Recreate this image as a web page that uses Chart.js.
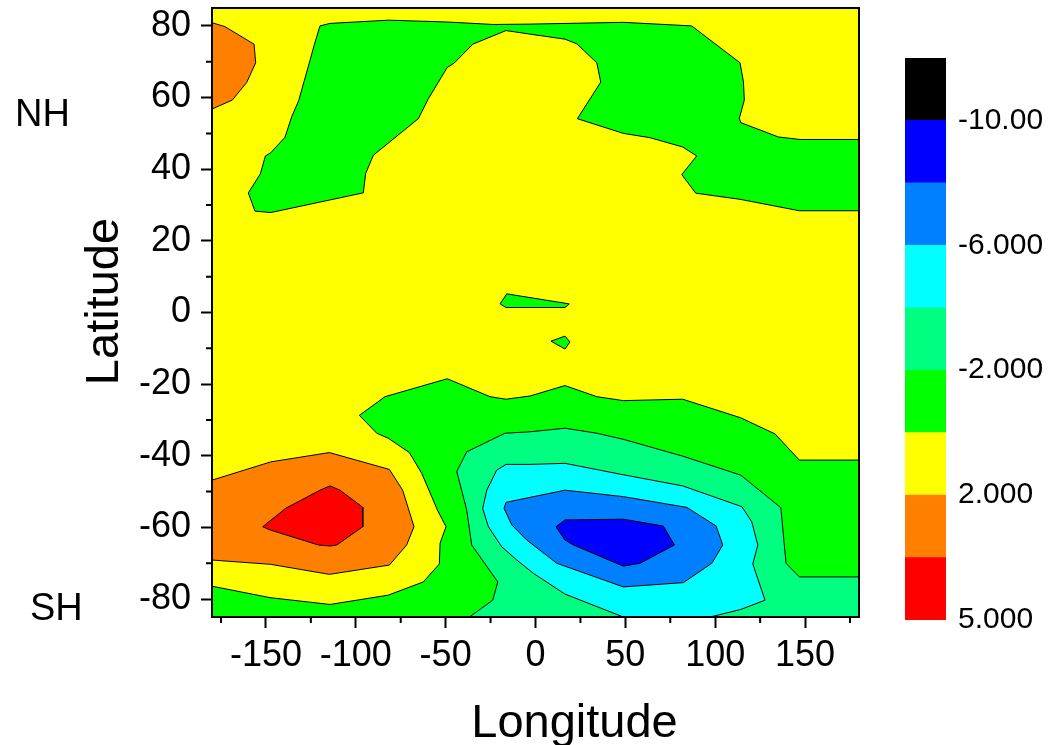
<!DOCTYPE html>
<html>
<head>
<meta charset="utf-8">
<script src="https://cdn.jsdelivr.net/npm/chart.js@4/dist/chart.umd.min.js"></script>
<style>
  body { margin: 0; background: #fff; }
  #wrap { position: relative; width: 1051px; height: 745px; }
  #contour { position: absolute; left: 0; top: 0; }
  #scale { position: absolute; left: 860px; top: 0; }
</style>
</head>
<body>
<div id="wrap">
  <canvas id="contour" width="1051" height="745"></canvas>
  <canvas id="scale" width="191" height="745"></canvas>
</div>
<script>
// axis ticks
const lonLabels = [-150, -100, -50, 0, 50, 100, 150];
const lonMinor = [-175, -125, -75, -25, 25, 75, 125, 175];
const latLabels = [-80, -60, -40, -20, 0, 20, 40, 60, 80];
const latMinor = [-70, -50, -30, -10, 10, 30, 50, 70];

// contour outlines, [longitude, latitude]
const baseYellow = [[-180, -85], [180, -85], [180, 85], [-180, 85]];
const nwOrange = [[-180, 80.9], [-172.8, 79.8], [-156.6, 74.9], [-155.7, 69.7], [-160.7, 64.2], [-168.7, 59.3], [-180, 56.8]];
const northGreen = [
    [-119.9, 80.0], [-114.3, 80.7], [-81.9, 81.6], [-49.4, 81.1], [-23.5, 80.4], [-3, 80.5], [48.9, 81.0],
    [86.9, 80.0], [113.8, 69.7], [115.7, 64.4], [116.2, 59.3], [113.4, 54.2], [114.2, 53.0], [135.1, 49.0],
    [147.2, 48.3], [180, 48.3], [180, 28.4], [146.8, 28.4], [113.8, 31.6], [89.2, 33.3], [81.4, 38.5],
    [89.7, 43.7], [81.9, 46.2], [63.7, 48.8], [48.9, 50.0], [23.3, 54.1], [36.3, 64.3], [34.1, 69.7],
    [23, 75.0], [16.4, 76.3], [-3, 77.7], [-16.4, 78.7], [-34.9, 74.9], [-45.3, 69.6], [-49.1, 68.4],
    [-59.6, 59.7], [-65.2, 54.1], [-80.9, 47.7], [-90.2, 43.9], [-94.5, 38.8], [-95.8, 33.4], [-147.3, 27.9],
    [-156.1, 28.3], [-159.8, 33.4], [-153.1, 38.7], [-150.3, 43.7], [-147.3, 44.6], [-139.4, 48.9],
    [-135.6, 54.7], [-131.8, 59.1], [-125.9, 69.6], [-123.1, 74.7],
];
const eqGreenA = [[-16, 5.2], [18.8, 2.4], [16.4, 1.4], [-16.4, 1.4], [-19.7, 2.4]];
const eqGreenB = [[8.6, -8.0], [16.4, -6.6], [19.2, -8.2], [16.4, -10.2]];
const southGreen = [
    [-180, -76.4], [-147.7, -79.6], [-114.3, -81.5], [-81.9, -78.9], [-62.4, -75.2], [-53.5, -70.2],
    [-53.1, -64.4], [-49.8, -59.8], [-54.6, -55.1], [-63.3, -44.9], [-70.2, -39.1], [-81.9, -35.1],
    [-88.3, -33.7], [-98, -28.7], [-83.7, -23.5], [-49.1, -18.5], [-25.3, -23.5], [-16.4, -24.2],
    [-3, -23.3], [16.4, -20.4], [34.1, -23.5], [48.9, -24.6], [81.9, -24.2], [114.2, -29.4],
    [133.3, -33.9], [146.8, -41.2], [180, -41.2], [180, -85], [-180, -85],
];
const swOrange = [
    [-180, -46.8], [-147.3, -41.7], [-114.7, -39.1], [-81.3, -43.8], [-73.9, -49.6], [-67.6, -59.8],
    [-71.7, -64.9], [-81.3, -70.5], [-114.7, -73.1], [-147.3, -70.3], [-180, -69.1],
];
const swRed = [
    [-151.8, -59.8], [-138.8, -54.6], [-119.9, -49.6], [-114.3, -48.4], [-108.8, -49.6], [-96.1, -54.4],
    [-96.1, -59.8], [-110.6, -64.9], [-114.3, -65.2], [-120.8, -64.9], [-147.7, -60.7],
];
const springGreen = [
    [-36.8, -85], [-23.8, -80.3], [-21, -75.2], [-35.5, -64.9], [-38.3, -55.1], [-43.8, -44.4],
    [-38.3, -38.9], [-17, -33.7], [-3, -33.3], [16.4, -32.3], [34.1, -33.7], [48.9, -35.4],
    [81.9, -40.1], [114.2, -45.4], [136.5, -54.5], [139.4, -70], [146.8, -73.8], [180, -73.8], [180, -85],
];
const cyanCore = [
    [-16.4, -42.4], [-21.6, -44], [-27.1, -49.6], [-29.4, -54.7], [-26.2, -59.8], [-18.8, -65.4],
    [-10.4, -69.1], [-1.2, -72.8], [16.4, -78.6], [48.9, -85], [97.1, -85], [114.2, -82.9],
    [127.7, -80.3], [120.9, -70.2], [123.7, -64.9], [120.3, -58.4], [114.8, -54.2], [81.9, -48.4],
    [48.9, -45.3], [16.4, -42.1], [-3, -42.4],
];
const midBlue = [
    [-16.4, -53], [-17.5, -54.7], [-13.2, -59.3], [-4.9, -63.5], [11.8, -70], [48.9, -76.6],
    [82.3, -75.4], [98.1, -70], [104.2, -64.9], [100.5, -59.6], [84.2, -54.4], [48.9, -51.4],
    [16.4, -49.6], [-3, -51.6],
];
const deepBlue = [
    [11.4, -59.8], [16.4, -57.9], [48.9, -57.7], [71.1, -59.6], [77.3, -64.9], [58.2, -70],
    [48.9, -70.8], [21.1, -64.9], [16.4, -63.5],
];

// colour scale, bottom to top
const levelColors = ["#ff0000", "#ff8000", "#ffff00", "#00ff00", "#00ff80", "#00ffff", "#0080ff", "#0000ff", "#000000"];
const levelTicks = ["5.000", "", "2.000", "", "-2.000", "", "-6.000", "", "-10.00", ""];

const layers = [
    [baseYellow, "#ffff00", 0],
    [nwOrange, "#ff8000", 1],
    [northGreen, "#00ff00", 1],
    [eqGreenA, "#00ff00", 1],
    [eqGreenB, "#00ff00", 1],
    [southGreen, "#00ff00", 1],
    [swOrange, "#ff8000", 1],
    [swRed, "#ff0000", 1],
    [springGreen, "#00ff80", 1],
    [cyanCore, "#00ffff", 1],
    [midBlue, "#0080ff", 1],
    [deepBlue, "#0000ff", 1],
];

Chart.defaults.font.family = '"Liberation Sans", Arial, sans-serif';
Chart.defaults.color = "#000";

const datasets = layers.map(([pts, color, bw], i) => ({
    data: pts.concat([pts[0]]).map(([x, y]) => ({ x: x, y: y })),
    showLine: true,
    fill: "shape",
    backgroundColor: color,
    borderColor: "#000",
    borderWidth: bw,
    pointRadius: 0,
    tension: 0,
    order: layers.length - i,
}));

const setTicks = (major, minor) => (s) => {
    s.ticks = major.concat(minor).sort((a, b) => a - b).map((v) => ({ value: v }));
};
const noPad = (s) => {
    s.paddingTop = 0;
    s.paddingBottom = 0;
    s.paddingLeft = 0;
    s.paddingRight = 0;
};

const frameAndText = {
    id: "frameAndText",
    afterDatasetsDraw(chart) {
        const { ctx, chartArea: a, scales } = chart;
        ctx.save();
        ctx.strokeStyle = "#000";
        ctx.lineWidth = 2;
        ctx.strokeRect(a.left, a.top, a.right - a.left, a.bottom - a.top);
        // minor ticks
        ctx.beginPath();
        lonMinor.forEach((v) => {
            const px = scales.x.getPixelForValue(v);
            ctx.moveTo(px, a.bottom);
            ctx.lineTo(px, a.bottom + 6);
        });
        latMinor.forEach((v) => {
            const py = scales.y.getPixelForValue(v);
            ctx.moveTo(a.left, py);
            ctx.lineTo(a.left - 6, py);
        });
        ctx.stroke();

        ctx.fillStyle = "#000";
        ctx.font = '47px "Liberation Sans", Arial, sans-serif';
        ctx.textAlign = "center";
        ctx.textBaseline = "alphabetic";
        ctx.fillText("Longitude", (a.left + a.right) / 2 + 39, 737);
        ctx.save();
        ctx.translate(118, (a.top + a.bottom) / 2 - 11);
        ctx.rotate(-Math.PI / 2);
        ctx.fillText("Latitude", 0, 0);
        ctx.restore();

        ctx.font = '38px "Liberation Sans", Arial, sans-serif';
        ctx.textAlign = "left";
        ctx.fillText("NH", 15, 126);
        ctx.fillText("SH", 30, 620);
        ctx.restore();
    },
};

new Chart(document.getElementById("contour"), {
    type: "scatter",
    data: { datasets: datasets },
    options: {
        responsive: false,
        animation: false,
        layout: { padding: { top: 8, right: 192, left: 0, bottom: 0 } },
        plugins: {
            legend: { display: false },
            tooltip: { enabled: false },
        },
        scales: {
            x: {
                type: "linear",
                min: -180,
                max: 180,
                afterBuildTicks: setTicks(lonLabels, lonMinor),
                afterFit: (s) => { noPad(s); s.height = 128; },
                ticks: {
                    autoSkip: false,
                    maxRotation: 0,
                    minRotation: 0,
                    padding: 6,
                    font: { size: 36 },
                    callback: (v) => (lonLabels.includes(v) ? String(v) : ""),
                },
                grid: {
                    drawOnChartArea: false,
                    tickLength: 11,
                    tickWidth: 2,
                    tickColor: (c) => (c.tick && lonLabels.includes(c.tick.value) ? "#000" : "rgba(0,0,0,0)"),
                },
                border: { display: false },
            },
            y: {
                type: "linear",
                min: -85,
                max: 85,
                afterBuildTicks: setTicks(latLabels, latMinor),
                afterFit: (s) => { noPad(s); s.width = 212; },
                ticks: {
                    autoSkip: false,
                    padding: 10,
                    font: { size: 36 },
                    callback: (v) => (latLabels.includes(v) ? String(v) : ""),
                },
                grid: {
                    drawOnChartArea: false,
                    tickLength: 11,
                    tickWidth: 2,
                    tickColor: (c) => (c.tick && latLabels.includes(c.tick.value) ? "#000" : "rgba(0,0,0,0)"),
                },
                border: { display: false },
            },
        },
    },
    plugins: [frameAndText],
});

new Chart(document.getElementById("scale"), {
    type: "bar",
    data: {
        labels: [""],
        datasets: levelColors.map((c) => ({
            data: [1],
            backgroundColor: c,
            borderWidth: 0,
            barPercentage: 1,
            categoryPercentage: 1,
        })),
    },
    options: {
        responsive: false,
        animation: false,
        layout: { padding: { left: 45, top: 58, bottom: 125, right: 0 } },
        plugins: {
            legend: { display: false },
            tooltip: { enabled: false },
        },
        scales: {
            x: { stacked: true, display: false },
            y: {
                stacked: true,
                position: "right",
                min: 0,
                max: 9,
                afterFit: (s) => { noPad(s); s.width = 105; },
                ticks: {
                    stepSize: 1,
                    autoSkip: false,
                    padding: 4,
                    font: { size: 30 },
                    callback: (v) => levelTicks[v],
                },
                grid: { display: false },
                border: { display: false },
            },
        },
    },
});
</script>
</body>
</html>
